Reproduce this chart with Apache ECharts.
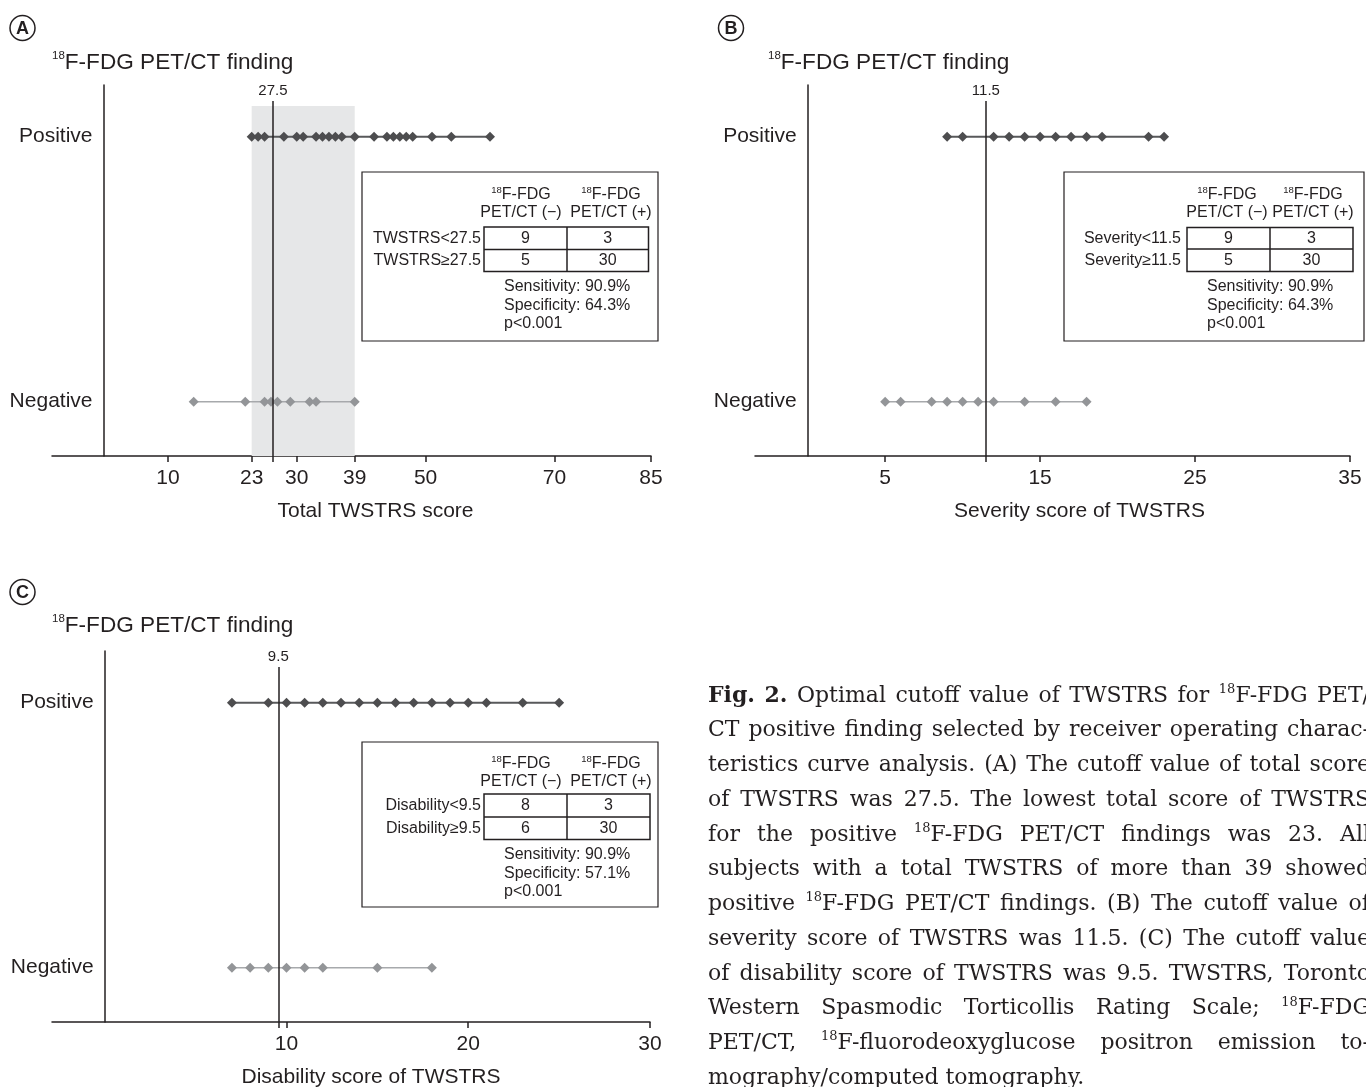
<!DOCTYPE html>
<html><head><meta charset="utf-8">
<script src="https://cdn.jsdelivr.net/npm/echarts@6/dist/echarts.min.js"></script>
<style>html,body{margin:0;padding:0;background:#fff;}#c{width:1366px;height:1087px;}</style>
</head><body><div id="c"></div>
<script>
// ---------------- data ----------------
const rowNames = ['Negative', 'Positive'];
const panelLetters = ['A', 'B', 'C'];
const titleText = 'F-FDG PET/CT finding';
const isotope = '18';
const axisNamesX = ['Total TWSTRS score', 'Severity score of TWSTRS', 'Disability score of TWSTRS'];
const ticksA = [10, 23, 30, 39, 50, 70, 85];
const ticksB = [5, 15, 25, 35];
const ticksC = [10, 20, 30];
const posA = [23, 24, 25, 28, 30, 31, 33, 34, 35, 36, 37, 39, 42, 44, 45, 46, 47, 48, 51, 54, 60];
const negA = [14, 22, 25, 26, 27, 29, 32, 33, 39];
const posB = [9, 10, 12, 13, 14, 15, 16, 17, 18, 19, 22, 23];
const negB = [5, 6, 8, 9, 10, 11, 12, 14, 16, 18];
const posC = [7, 9, 10, 11, 12, 13, 14, 15, 16, 17, 18, 19, 20, 21, 23, 25];
const negC = [7, 8, 9, 10, 11, 12, 15, 18];
const cutoffLabels = ['27.5', '11.5', '9.5'];
const cutoffLinePos = [26.3, 11.5, 9.55];   // where the cutoff line sits in the picture
const bandA = [23, 39];
const headerLine2 = ['PET/CT (\u2212)', 'PET/CT (+)'];
const rowLabelsA = ['TWSTRS<27.5', 'TWSTRS\u226527.5'];
const rowLabelsB = ['Severity<11.5', 'Severity\u226511.5'];
const rowLabelsC = ['Disability<9.5', 'Disability\u22659.5'];
const countsA = [[9, 3], [5, 30]];
const countsB = [[9, 3], [5, 30]];
const countsC = [[8, 3], [6, 30]];
const statsA = ['Sensitivity: 90.9%', 'Specificity: 64.3%', 'p<0.001'];
const statsB = ['Sensitivity: 90.9%', 'Specificity: 64.3%', 'p<0.001'];
const statsC = ['Sensitivity: 90.9%', 'Specificity: 57.1%', 'p<0.001'];
const captionLines = [
  [['b', 'Fig. 2.'], ['n', ' Optimal cutoff value of TWSTRS for '], ['s', '18'], ['n', 'F-FDG PET/']],
  [['n', 'CT positive finding selected by receiver operating charac-']],
  [['n', 'teristics curve analysis. (A) The cutoff value of total score']],
  [['n', 'of TWSTRS was 27.5. The lowest total score of TWSTRS']],
  [['n', 'for the positive '], ['s', '18'], ['n', 'F-FDG PET/CT findings was 23. All']],
  [['n', 'subjects with a total TWSTRS of more than 39 showed']],
  [['n', 'positive '], ['s', '18'], ['n', 'F-FDG PET/CT findings. (B) The cutoff value of']],
  [['n', 'severity score of TWSTRS was 11.5. (C) The cutoff value']],
  [['n', 'of disability score of TWSTRS was 9.5. TWSTRS, Toronto']],
  [['n', 'Western Spasmodic Torticollis Rating Scale; '], ['s', '18'], ['n', 'F-FDG']],
  [['n', 'PET/CT, '], ['s', '18'], ['n', 'F-fluorodeoxyglucose positron emission to-']],
  [['n', 'mography/computed tomography.']]
];

// ---------------- styling / layout ----------------
const TXT = '#231f20';
const SANS = 'Liberation Sans';
const SERIF = 'DejaVu Serif';
const Y_MIN = -0.205, Y_MAX = 1.195, CUT_TOP = 1.135, BAND_TOP = 1.116;

const panels = [
  {ticks: ticksA, pos: posA, neg: negA, min: -8, max: 85, grid: {left: 52, top: 85, width: 599, height: 371}, nameShift: 48, yOffset: -51.5,
   letter: [22.5, 28], title: [52, 63], rows: rowLabelsA, counts: countsA, stats: statsA,
   tb: {box: [362, 172, 296, 169], cx: [484, 567, 648.5], cy: [227, 249.5, 271.5], hx: [521, 611], hy: [195, 213], lx: 481, sx: 504, sy: [287, 306, 324]}},
  {ticks: ticksB, pos: posB, neg: negB, min: -3.4, max: 35, grid: {left: 755, top: 85, width: 595, height: 371}, nameShift: 54, yOffset: -52.7,
   letter: [731, 28], title: [768, 63], rows: rowLabelsB, counts: countsB, stats: statsB,
   tb: {box: [1064, 172, 300, 169], cx: [1187, 1270, 1353], cy: [227.5, 249, 271.5], hx: [1227, 1313], hy: [195, 213], lx: 1181, sx: 1207, sy: [287, 306, 324]}},
  {ticks: ticksC, pos: posC, neg: negC, min: -2.9, max: 30, grid: {left: 52, top: 651, width: 598, height: 371}, nameShift: 40, yOffset: -52.7,
   letter: [22.5, 592], title: [52, 626], rows: rowLabelsC, counts: countsC, stats: statsC,
   tb: {box: [362, 742, 296, 165], cx: [484, 567, 650], cy: [794, 817, 839.5], hx: [521, 611], hy: [763.5, 782], lx: 481, sx: 504, sy: [855, 874, 892]}}
];

const grids = [], xAxes = [], yAxes = [], series = [], graphics = [];

panels.forEach((p, i) => {
  grids.push(Object.assign({outerBoundsMode: 'none', containLabel: false}, p.grid));
  xAxes.push({
    gridIndex: i, type: 'value', min: p.min, max: p.max,
    axisLine: {onZero: false, lineStyle: {color: TXT, width: 1.5}},
    axisTick: {show: true, length: 6, customValues: p.ticks.concat([cutoffLinePos[i]]), lineStyle: {color: TXT, width: 1.5}},
    axisLabel: {customValues: p.ticks, fontSize: 21, fontFamily: SANS, color: TXT, margin: 12},
    splitLine: {show: false},
    name: axisNamesX[i], nameLocation: 'middle', nameGap: 45,
    nameTextStyle: {fontSize: 21, fontFamily: SANS, color: TXT, padding: [0, 0, 0, p.nameShift]}
  });
  yAxes.push({
    gridIndex: i, type: 'value', min: Y_MIN, max: Y_MAX, position: 'left', offset: p.yOffset,
    axisLine: {show: true, onZero: false, lineStyle: {color: TXT, width: 1.5}},
    axisTick: {show: false},
    axisLabel: {customValues: [0, 1], formatter: v => rowNames[Math.round(v)], fontSize: 21, fontFamily: SANS, color: TXT, margin: 11},
    splitLine: {show: false}
  });
  if (i === 0) {
    series.push({
      type: 'line', xAxisIndex: i, yAxisIndex: i, data: [], z: 1, silent: true,
      markArea: {silent: true, itemStyle: {color: '#e6e7e8'},
        data: [[{coord: [bandA[0], Y_MIN]}, {coord: [bandA[1], BAND_TOP]}]]}
    });
  }
  series.push({
    type: 'line', xAxisIndex: i, yAxisIndex: i, z: 4, silent: true,
    data: p.neg.map(v => [v, 0]),
    symbol: 'diamond', symbolSize: 10, showSymbol: true,
    lineStyle: {color: '#a7a9ac', width: 1.5}, itemStyle: {color: '#939598'}
  });
  series.push({
    type: 'line', xAxisIndex: i, yAxisIndex: i, z: 4, silent: true,
    data: p.pos.map(v => [v, 1]),
    symbol: 'diamond', symbolSize: 10, showSymbol: true,
    lineStyle: {color: '#58595b', width: 2}, itemStyle: {color: '#4d4d4f'},
    markLine: {
      silent: true, symbol: ['none', 'none'], animation: false,
      lineStyle: {color: TXT, width: 1.5, type: 'solid'},
      label: {show: true, position: 'end', formatter: cutoffLabels[i], fontSize: 15, fontFamily: SANS, color: TXT, distance: 3},
      data: [[{coord: [cutoffLinePos[i], Y_MIN]}, {coord: [cutoffLinePos[i], CUT_TOP]}]]
    }
  });

  // panel letter
  graphics.push({type: 'circle', shape: {cx: p.letter[0], cy: p.letter[1], r: 12.5}, style: {fill: 'none', stroke: TXT, lineWidth: 1.5}});
  graphics.push({type: 'text', x: p.letter[0], y: p.letter[1] + 1, style: {text: panelLetters[i], fontSize: 18, fontWeight: 'bold', fontFamily: SANS, fill: TXT, align: 'center', verticalAlign: 'middle'}});
  // title
  graphics.push({type: 'text', x: p.title[0], y: p.title[1], style: {
    text: '{s|' + isotope + '}{n|' + titleText + '}', align: 'left', verticalAlign: 'middle',
    rich: {s: {fontSize: 11.5, fontFamily: SANS, fill: TXT, lineHeight: 11, verticalAlign: 'top'},
           n: {fontSize: 22.6, fontFamily: SANS, fill: TXT, lineHeight: 26}}}});
  // table
  const t = p.tb;
  graphics.push({type: 'rect', shape: {x: t.box[0], y: t.box[1], width: t.box[2], height: t.box[3]}, style: {fill: 'none', stroke: TXT, lineWidth: 1.2}});
  graphics.push({type: 'rect', shape: {x: t.cx[0], y: t.cy[0], width: t.cx[2] - t.cx[0], height: t.cy[2] - t.cy[0]}, style: {fill: 'none', stroke: TXT, lineWidth: 1.5}});
  graphics.push({type: 'line', shape: {x1: t.cx[1], y1: t.cy[0], x2: t.cx[1], y2: t.cy[2]}, style: {stroke: TXT, lineWidth: 1.5}});
  graphics.push({type: 'line', shape: {x1: t.cx[0], y1: t.cy[1], x2: t.cx[2], y2: t.cy[1]}, style: {stroke: TXT, lineWidth: 1.5}});
  for (let c = 0; c < 2; c++) {
    graphics.push({type: 'text', x: t.hx[c], y: t.hy[0], style: {
      text: '{s|' + isotope + '}{n|F-FDG}', align: 'center', verticalAlign: 'middle',
      rich: {s: {fontSize: 9.5, fontFamily: SANS, fill: TXT, lineHeight: 9, verticalAlign: 'top'},
             n: {fontSize: 16, fontFamily: SANS, fill: TXT, lineHeight: 19}}}});
    graphics.push({type: 'text', x: t.hx[c], y: t.hy[1], style: {text: headerLine2[c], fontSize: 16, fontFamily: SANS, fill: TXT, align: 'center', verticalAlign: 'middle'}});
  }
  for (let r = 0; r < 2; r++) {
    const yc = (t.cy[r] + t.cy[r + 1]) / 2;
    graphics.push({type: 'text', x: t.lx, y: yc, style: {text: p.rows[r], fontSize: 16, fontFamily: SANS, fill: TXT, align: 'right', verticalAlign: 'middle'}});
    for (let c = 0; c < 2; c++) {
      graphics.push({type: 'text', x: (t.cx[c] + t.cx[c + 1]) / 2, y: yc, style: {text: String(p.counts[r][c]), fontSize: 16, fontFamily: SANS, fill: TXT, align: 'center', verticalAlign: 'middle'}});
    }
  }
  p.stats.forEach((s, k) => {
    graphics.push({type: 'text', x: t.sx, y: t.sy[k], style: {text: s, fontSize: 16, fontFamily: SANS, fill: TXT, align: 'left', verticalAlign: 'middle'}});
  });
});

// ---------------- caption (justified) ----------------
const CAP_X = 708, CAP_W = 662, CAP_Y0 = 696, CAP_DY = 34.75, CAP_FS = 22, CAP_SUP = 13;
const capStyles = {
  n: {fontFamily: SERIF, fontSize: CAP_FS, fontWeight: 'normal', fill: TXT, lineHeight: 26},
  b: {fontFamily: SERIF, fontSize: CAP_FS, fontWeight: 'bold', fill: TXT, lineHeight: 26},
  s: {fontFamily: SERIF, fontSize: CAP_SUP, fontWeight: 'normal', fill: TXT, lineHeight: 13, verticalAlign: 'top'}
};
const mctx = document.createElement('canvas').getContext('2d');
function measure(st, txt) {
  const s = capStyles[st];
  mctx.font = s.fontWeight + ' ' + s.fontSize + 'px "' + s.fontFamily + '"';
  return mctx.measureText(txt).width;
}
function splitWords(segs) {
  const words = []; let cur = [];
  segs.forEach(([st, txt]) => {
    txt.split(' ').forEach((part, k) => {
      if (k > 0) { if (cur.length) words.push(cur); cur = []; }
      if (part.length) cur.push([st, part]);
    });
  });
  if (cur.length) words.push(cur);
  return words;
}
const spaceW = measure('n', ' ');
captionLines.forEach((segs, li) => {
  const words = splitWords(segs);
  const widths = words.map(w => w.reduce((a, [st, tx]) => a + measure(st, tx), 0));
  const sum = widths.reduce((a, b) => a + b, 0);
  const last = li === captionLines.length - 1;
  let gap = spaceW;
  if (!last && words.length > 1) gap = Math.max(spaceW, (CAP_W - sum) / (words.length - 1));
  let x = CAP_X;
  words.forEach((w, wi) => {
    graphics.push({type: 'text', x: x, y: CAP_Y0 + li * CAP_DY, style: {
      text: w.map(([st, tx]) => '{' + st + '|' + tx + '}').join(''),
      align: 'left', verticalAlign: 'middle', rich: capStyles}});
    x += widths[wi] + gap;
  });
});

const chart = echarts.init(document.getElementById('c'), null, {renderer: 'canvas', width: 1366, height: 1087});
chart.setOption({
  animation: false,
  backgroundColor: '#ffffff',
  grid: grids, xAxis: xAxes, yAxis: yAxes, series: series,
  graphic: {elements: graphics}
});
</script>
</body></html>
